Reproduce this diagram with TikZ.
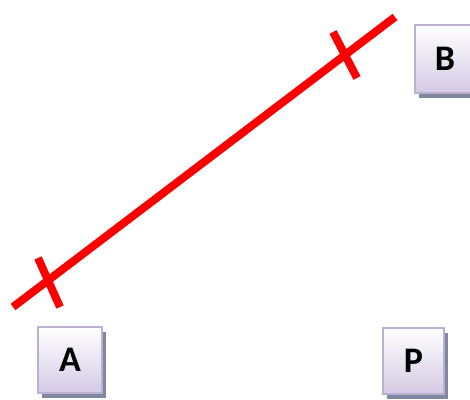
\documentclass[tikz,border=0pt]{standalone}
\usepackage{fontspec}
\setmainfont{Carlito}
\usetikzlibrary{shadows}
\definecolor{lav}{RGB}{212,202,228}
\definecolor{lavedge}{RGB}{188,176,208}
\definecolor{shad}{RGB}{128,136,160}
\definecolor{segred}{RGB}{250,0,0}
\tikzset{
  ptbox/.style={draw=lavedge, line width=1.2pt, top color=white, bottom color=lav,
    minimum width=#1, minimum height=66pt, inner sep=0pt,
    font=\bfseries\fontsize{36}{36}\selectfont,
    drop shadow={shadow xshift=4pt, shadow yshift=-5pt, fill=shad, opacity=1}},
  seg/.style={draw=segred, line width=8pt},
}
\begin{document}
\begin{tikzpicture}[x=1pt,y=-1pt]
\useasboundingbox (0,0) rectangle (470,399);
\node[ptbox=64pt] (A) at (70,360) {A};
\node[ptbox=61pt] (P) at (413.5,361) {P};
\node[ptbox=60pt, minimum height=68pt] (B) at (445,59) {B};
\coordinate (s1) at (13,307);
\coordinate (s2) at (395,17);
\coordinate (t1a) at (38,258);
\coordinate (t1b) at (60,307);
\coordinate (t2a) at (333,32);
\coordinate (t2b) at (357,78);
\draw[seg] (s1) -- (s2);
\draw[seg] (t1a) -- (t1b);
\draw[seg] (t2a) -- (t2b);
\end{tikzpicture}
\end{document}
